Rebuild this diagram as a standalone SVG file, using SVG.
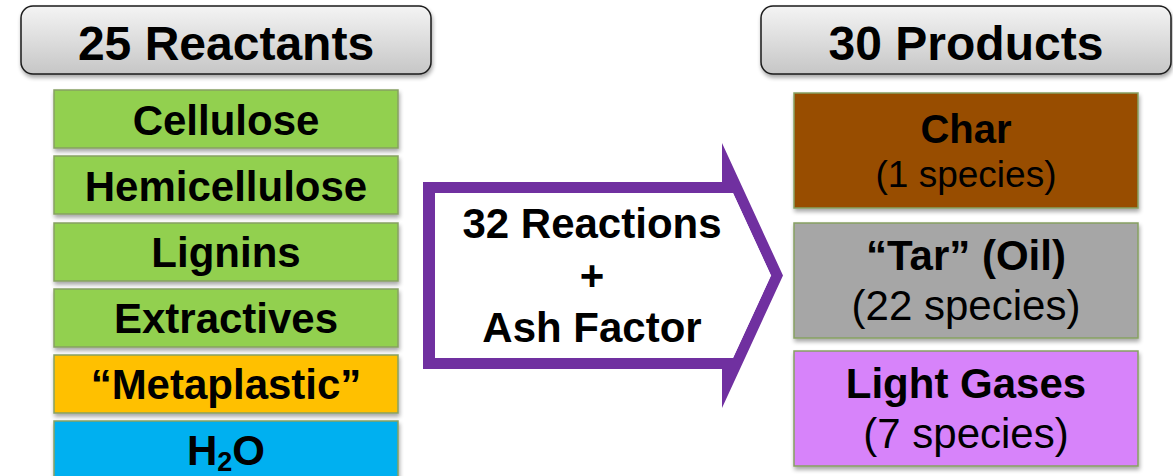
<svg xmlns="http://www.w3.org/2000/svg" width="1173" height="476" viewBox="0 0 1173 476">
  <style>
    .hdr { stroke: #1a1a1a; stroke-width: 1.5; fill: url(#hdrGrad); filter: url(#shadow); }
    .box { stroke: #86a062; stroke-width: 1.5; filter: url(#shadow); }
    .t { font-family: "Liberation Sans", Arial, sans-serif; fill: #000; text-anchor: middle; }
    .b { font-weight: bold; }
  </style>
  <defs>
    <linearGradient id="hdrGrad" x1="0" y1="0" x2="0" y2="1">
      <stop offset="0" stop-color="#f4f4f4"/>
      <stop offset="1" stop-color="#c6c6c6"/>
    </linearGradient>
    <filter id="shadow" x="-5%" y="-10%" width="110%" height="130%">
      <feGaussianBlur in="SourceAlpha" stdDeviation="2"/>
      <feOffset dx="1" dy="3" result="o"/>
      <feComponentTransfer><feFuncA type="linear" slope="0.35"/></feComponentTransfer>
      <feMerge><feMergeNode/><feMergeNode in="SourceGraphic"/></feMerge>
    </filter>
  </defs>
  <rect width="1173" height="476" fill="#ffffff"/>

  <g id="reactants-header">
    <rect class="hdr" x="21" y="6" width="410" height="68" rx="12"/>
    <text class="t b" x="226" y="60" font-size="48">25 Reactants</text>
  </g>
  <g id="products-header">
    <rect class="hdr" x="761" y="6" width="410" height="68" rx="12"/>
    <text class="t b" x="966" y="60" font-size="48">30 Products</text>
  </g>

  <g id="cellulose">
    <rect class="box" x="54" y="90" width="344" height="58" fill="#92d050"/>
    <text class="t b" x="226" y="135" font-size="42">Cellulose</text>
  </g>
  <g id="hemicellulose">
    <rect class="box" x="54" y="156" width="344" height="58" fill="#92d050"/>
    <text class="t b" x="226" y="201" font-size="42">Hemicellulose</text>
  </g>
  <g id="lignins">
    <rect class="box" x="54" y="223" width="344" height="58" fill="#92d050"/>
    <text class="t b" x="226" y="267" font-size="42">Lignins</text>
  </g>
  <g id="extractives">
    <rect class="box" x="54" y="289" width="344" height="58" fill="#92d050"/>
    <text class="t b" x="226" y="333" font-size="42">Extractives</text>
  </g>
  <g id="metaplastic">
    <rect class="box" x="54" y="355" width="344" height="58" fill="#ffc000"/>
    <text class="t b" x="226" y="399" font-size="42">“Metaplastic”</text>
  </g>
  <g id="water">
    <rect class="box" x="54" y="421" width="344" height="58" fill="#00b0f0"/>
    <text class="t b" x="226" y="465" font-size="42">H<tspan font-size="27" dy="6">2</tspan><tspan dy="-6">O</tspan></text>
  </g>

  <g id="connectors">
    <path fill="#7030a0" fill-rule="evenodd" d="M423,182 L722,182 L722,143 L783,275.5 L722,408 L722,369 L423,369 Z M435,193 L733,193 L771,275.5 L733,358 L435,358 Z"/>
    <path fill="#ffffff" d="M435,193 L733,193 L771,275.5 L733,358 L435,358 Z"/>
    <text class="t b" x="592" y="238" font-size="42">32 Reactions</text>
    <text class="t b" x="592" y="290" font-size="42">+</text>
    <text class="t b" x="592" y="342" font-size="42">Ash Factor</text>
  </g>

  <g id="char">
    <rect class="box" x="794" y="93" width="344" height="115" fill="#984e00"/>
    <text class="t b" x="966" y="143" font-size="40">Char</text>
    <text class="t" x="966" y="187" font-size="37">(1 species)</text>
  </g>
  <g id="tar">
    <rect class="box" x="794" y="223" width="344" height="115" fill="#a6a6a6"/>
    <text class="t b" x="966" y="270" font-size="42">“Tar” (Oil)</text>
    <text class="t" x="966" y="320" font-size="42">(22 species)</text>
  </g>
  <g id="light-gases">
    <rect class="box" x="794" y="351" width="344" height="115" fill="#d783fa"/>
    <text class="t b" x="966" y="398" font-size="42">Light Gases</text>
    <text class="t" x="966" y="448" font-size="42">(7 species)</text>
  </g>
</svg>
